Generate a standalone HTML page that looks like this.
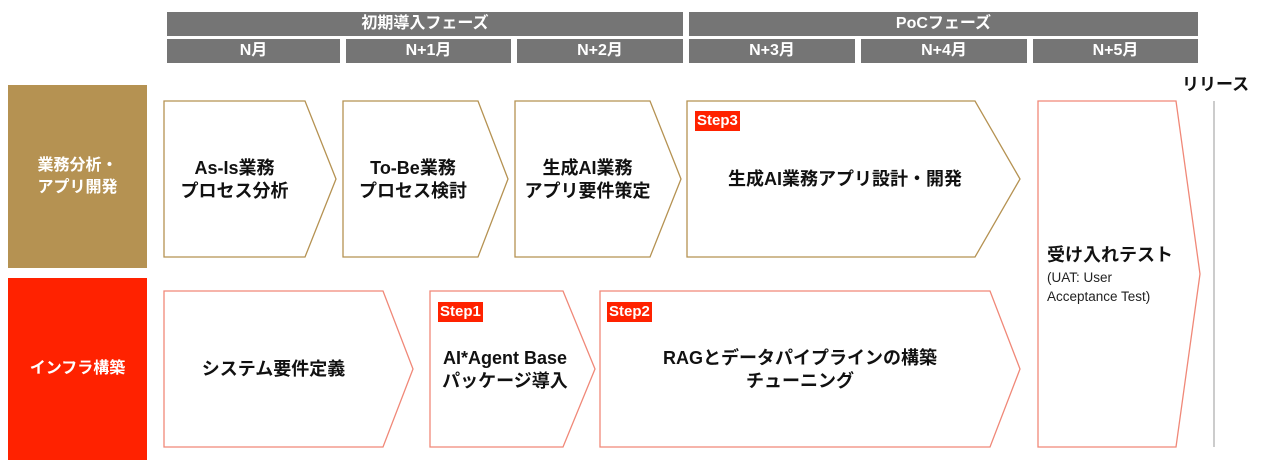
<!DOCTYPE html>
<html><head><meta charset="utf-8"><style>
body{margin:0;width:1263px;height:465px;background:#fff;position:relative;overflow:hidden;font-family:"Liberation Sans","Noto Sans CJK JP",sans-serif;}
.h{position:absolute;background:#757575;color:#fff;font-weight:bold;font-size:16px;text-align:center;line-height:24px;height:24px;}
.l{position:absolute;color:#fff;font-weight:bold;font-size:16px;display:flex;align-items:center;justify-content:center;text-align:center;line-height:22px;}
.t{position:absolute;font-weight:bold;font-size:18px;color:#111;text-align:center;line-height:23px;}
.s{position:absolute;background:#ff2200;color:#fff;font-weight:bold;font-size:15px;line-height:20px;padding:0 2px;}
</style></head><body>
<div class="h" style="left:167px;top:12px;width:516px">初期導入フェーズ</div>
<div class="h" style="left:689px;top:12px;width:509px">PoCフェーズ</div>
<div class="h" style="left:167px;top:39px;width:173px">N月</div>
<div class="h" style="left:346px;top:39px;width:165px">N+1月</div>
<div class="h" style="left:517px;top:39px;width:166px">N+2月</div>
<div class="h" style="left:689px;top:39px;width:166px">N+3月</div>
<div class="h" style="left:861px;top:39px;width:166px">N+4月</div>
<div class="h" style="left:1033px;top:39px;width:165px">N+5月</div>
<div class="l" style="left:8px;top:85px;width:139px;height:183px;background:#b59252">業務分析・<br>アプリ開発</div>
<div class="l" style="left:8px;top:278px;width:139px;height:182px;background:#ff2200">インフラ構築</div>
<svg width="1263" height="465" style="position:absolute;left:0;top:0" fill="#fff" stroke-width="1.3">
<g stroke="#b59252">
<polygon points="164,101 305,101 336,179 305,257 164,257"/>
<polygon points="343,101 478,101 508,179 478,257 343,257"/>
<polygon points="515,101 650,101 681,179 650,257 515,257"/>
<polygon points="687,101 975,101 1020,179 975,257 687,257"/>
</g>
<g stroke="#f08878">
<polygon points="164,291 383,291 413,369 383,447 164,447"/>
<polygon points="430,291 563,291 595,369 563,447 430,447"/>
<polygon points="600,291 990,291 1020,369 990,447 600,447"/>
<polygon points="1038,101 1176,101 1200,274 1176,447 1038,447"/>
</g>
<line x1="1214" y1="101" x2="1214" y2="447" stroke="#bbb" stroke-width="1.5"/>
</svg>
<div class="t" style="left:1182px;top:73px;font-size:17px">リリース</div>
<div class="t" style="left:164px;top:157px;width:141px">As-Is業務<br>プロセス分析</div>
<div class="t" style="left:343px;top:157px;width:140px">To-Be業務<br>プロセス検討</div>
<div class="t" style="left:515px;top:157px;width:145px">生成AI業務<br>アプリ要件策定</div>
<div class="t" style="left:687px;top:168px;width:316px">生成AI業務アプリ設計・開発</div>
<div class="t" style="left:164px;top:358px;width:219px">システム要件定義</div>
<div class="t" style="left:430px;top:347px;width:150px">AI*Agent Base<br>パッケージ導入</div>
<div class="t" style="left:600px;top:347px;width:400px">RAGとデータパイプラインの構築<br>チューニング</div>
<div class="t" style="left:1047px;top:244px;text-align:left">受け入れテスト</div>
<div style="position:absolute;left:1047px;top:268px;font-size:13.5px;line-height:19px;color:#222">(UAT: User<br>Acceptance Test)</div>
<div class="s" style="left:695px;top:111px">Step3</div>
<div class="s" style="left:438px;top:302px">Step1</div>
<div class="s" style="left:607px;top:302px">Step2</div>
</body></html>
